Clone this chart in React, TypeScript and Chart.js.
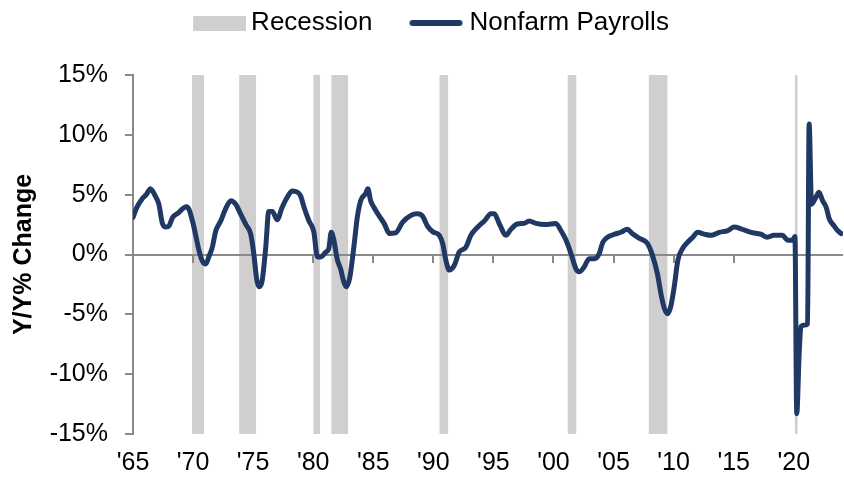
import React, { useEffect, useRef } from 'react';
import { Chart, registerables } from 'chart.js';

Chart.register(...registerables);

// ---- data ----
const years = [
  1965.0, 1965.3, 1965.8, 1966.1, 1966.45, 1966.85, 1967.15, 1967.45, 1967.75, 1968.0,
  1968.3, 1968.8, 1969.1, 1969.45, 1969.65, 1969.95, 1970.2, 1970.5, 1970.8, 1971.05,
  1971.35, 1971.6, 1971.9, 1972.3, 1972.7, 1973.15, 1973.55, 1973.95, 1974.4, 1974.8,
  1975.05, 1975.3, 1975.5, 1975.75, 1976.05, 1976.3, 1976.6, 1977.0, 1977.4, 1977.85,
  1978.25, 1978.7, 1978.95, 1979.25, 1979.65, 1980.05, 1980.35, 1980.6, 1981.05, 1981.3,
  1981.5, 1981.72, 1982.0, 1982.28, 1982.55, 1982.75, 1983.05, 1983.38, 1983.67, 1983.95,
  1984.37, 1984.55, 1984.78, 1985.05, 1985.5, 1985.9, 1986.35, 1986.85, 1987.45, 1988.1,
  1988.65, 1989.1, 1989.5, 1989.95, 1990.5, 1990.78, 1991.05, 1991.32, 1991.75, 1992.15,
  1992.7, 1993.12, 1993.7, 1994.25, 1994.8, 1995.07, 1995.5, 1996.05, 1996.45, 1997.0,
  1997.55, 1997.97, 1998.55, 1999.25, 1999.8, 2000.2, 2000.62, 2001.05, 2001.45, 2001.87,
  2002.15, 2002.55, 2002.97, 2003.4, 2003.8, 2004.1, 2004.5, 2005.1, 2005.6, 2006.15,
  2006.55, 2007.25, 2007.8, 2008.2, 2008.65, 2008.95, 2009.2, 2009.5, 2009.75, 2010.05,
  2010.35, 2010.75, 2011.15, 2011.6, 2012.0, 2012.55, 2013.1, 2013.8, 2014.5, 2015.05,
  2015.6, 2016.45, 2017.25, 2017.8, 2018.35, 2019.05, 2019.5, 2019.9, 2020.1, 2020.25,
  2020.45, 2020.6, 2020.95, 2021.15, 2021.28, 2021.48, 2021.85, 2022.1, 2022.4, 2022.7,
  2022.95, 2023.35, 2023.65, 2023.95,
];
const payrolls = [
  3.1, 3.9, 4.7, 5.0, 5.5, 4.9, 4.2, 2.6, 2.3, 2.4,
  3.1, 3.5, 3.8, 4.0, 3.8, 2.8, 1.7, 0.3, -0.6, -0.8,
  -0.1, 0.6, 2.0, 2.8, 3.8, 4.5, 4.2, 3.4, 2.5, 1.7,
  0.1, -2.1, -2.7, -2.2, 0.6, 3.6, 3.6, 2.9, 3.9, 4.8,
  5.3, 5.2, 4.9, 3.9, 2.8, 1.9, -0.2, -0.2, 0.2, 0.5,
  1.85, 1.2, -0.4, -1.2, -2.3, -2.7, -1.9, 0.6, 3.1, 4.5,
  5.1, 5.5, 4.5, 3.95, 3.2, 2.6, 1.75, 1.8, 2.7, 3.25,
  3.4, 3.2, 2.4, 1.9, 1.6, 0.9, -0.5, -1.3, -0.9, 0.2,
  0.6, 1.6, 2.3, 2.8, 3.4, 3.4, 2.55, 1.6, 2.1, 2.55,
  2.6, 2.8, 2.6, 2.5, 2.55, 2.6, 2.0, 1.2, 0.1, -1.2,
  -1.45, -1.05, -0.35, -0.35, 0.05, 1.0, 1.45, 1.7, 1.86, 2.1,
  1.75, 1.3, 0.95, 0.05, -1.6, -3.3, -4.4, -4.95, -4.4, -2.7,
  -0.5, 0.5, 1.0, 1.45, 1.85, 1.7, 1.6, 1.85, 2.0, 2.3,
  2.15, 1.85, 1.7, 1.45, 1.6, 1.6, 1.2, 1.2, 1.5, -13.3,
  -8.3, -6.0, -5.9, -5.8, 10.9, 4.2, 4.8, 5.2, 4.5, 3.95,
  3.0, 2.4, 2.0, 1.75,
];
const recessionStart = [1969.917, 1973.833, 1980.0, 1981.5, 1990.5, 2001.167, 2007.917, 2020.083];
const recessionEnd = [1970.917, 1975.25, 1980.583, 1982.917, 1991.25, 2001.917, 2009.5, 2020.333];
const xTickYears = [1965, 1970, 1975, 1980, 1985, 1990, 1995, 2000, 2005, 2010, 2015, 2020];
const yTickValues = [-15, -10, -5, 0, 5, 10, 15];
const legendNames = ['Recession', 'Nonfarm Payrolls'];
const yAxisTitle = 'Y/Y% Change';

// ---- styles ----
const NAVY = '#1f3864';
const BAR_GRAY = '#d0cece';
const AXIS_GRAY = '#8a8a8a';
const FONT = "'Liberation Sans', Arial, sans-serif";

function makeMarker(kind: 'box' | 'line'): HTMLCanvasElement {
  const c = document.createElement('canvas');
  c.width = 90;
  c.height = kind === 'box' ? 15 : 8;
  const ctx = c.getContext('2d')!;
  if (kind === 'box') {
    ctx.fillStyle = BAR_GRAY;
    ctx.fillRect(37, 0, 53, 15);
  } else {
    ctx.strokeStyle = NAVY;
    ctx.lineWidth = 6;
    ctx.lineCap = 'round';
    ctx.beginPath();
    ctx.moveTo(38, 4);
    ctx.lineTo(85, 4);
    ctx.stroke();
  }
  return c;
}

const zeroAxisPlugin = {
  id: 'zeroAxis',
  beforeDatasetDraw(chart: any, args: any) {
    if (args.index !== 1) return;
    const { ctx, chartArea, scales } = chart;
    const x = scales.x;
    const y = scales.y;
    const y0 = Math.round(y.getPixelForValue(0));
    ctx.save();
    ctx.strokeStyle = AXIS_GRAY;
    ctx.lineWidth = 2;
    ctx.beginPath();
    ctx.moveTo(chartArea.left, y0);
    ctx.lineTo(chartArea.right, y0);
    for (const t of x.ticks) {
      const px = Math.round(x.getPixelForValue(t.value));
      ctx.moveTo(px, y0);
      ctx.lineTo(px, y0 + 8);
    }
    ctx.stroke();
    ctx.restore();
  },
};

export default function App() {
  const ref = useRef<HTMLCanvasElement | null>(null);

  useEffect(() => {
    if (!ref.current) return;
    const markers = [makeMarker('box'), makeMarker('line')];

    const recessionData: any[] = [];
    recessionStart.forEach((s, i) => {
      recessionData.push({ x: s, y: 15 });
      recessionData.push({ x: recessionEnd[i], y: 15 });
      const next = i + 1 < recessionStart.length ? recessionStart[i + 1] : recessionEnd[i] + 0.5;
      recessionData.push({ x: (recessionEnd[i] + next) / 2, y: null });
    });

    const chart = new Chart(ref.current, {
      type: 'line',
      data: {
        datasets: [
          {
            label: legendNames[0],
            data: recessionData,
            order: 2,
            borderWidth: 0,
            borderColor: 'rgba(0,0,0,0)',
            backgroundColor: BAR_GRAY,
            pointRadius: 0,
            fill: 'start',
            spanGaps: false,
          },
          {
            label: legendNames[1],
            data: years.map((yr, i) => ({ x: yr, y: payrolls[i] })),
            order: 1,
            borderColor: NAVY,
            borderWidth: 5,
            pointRadius: 0,
            cubicInterpolationMode: 'monotone',
            borderJoinStyle: 'round',
            borderCapStyle: 'round',
            fill: false,
          },
        ],
      },
      options: {
        animation: false,
        responsive: false,
        events: [],
        layout: { padding: { left: -10, right: 1, top: 0, bottom: 0 } },
        plugins: {
          tooltip: { enabled: false },
          title: {
            display: true,
            text: '',
            weight: 0,
            font: { size: 1, lineHeight: 1 },
            padding: { top: 0, bottom: 28 },
          } as any,
          legend: {
            display: true,
            position: 'top',
            labels: {
              usePointStyle: true,
              pointStyleWidth: 74,
              boxHeight: 15,
              padding: 10,
              color: '#000',
              font: { family: FONT, size: 26 },
              generateLabels: () =>
                legendNames.map((name, i) => ({
                  text: name,
                  pointStyle: markers[i],
                  fillStyle: 'rgba(0,0,0,0)',
                  strokeStyle: 'rgba(0,0,0,0)',
                  lineWidth: 0,
                  hidden: false,
                  datasetIndex: i,
                  fontColor: '#000',
                })) as any,
            },
          },
        },
        scales: {
          x: {
            type: 'linear',
            min: 1965,
            max: 2024.1,
            afterFit: (s: any) => {
              s.height = 48;
            },
            afterBuildTicks: (s: any) => {
              s.ticks = xTickYears.map((v) => ({ value: v }));
            },
            ticks: {
              autoSkip: false,
              maxRotation: 0,
              minRotation: 0,
              padding: 14,
              color: '#000',
              font: { family: FONT, size: 25 },
              callback: (v: any) => "'" + String(Number(v) % 100).padStart(2, '0'),
            },
            grid: { display: false, drawTicks: false },
            border: { display: false },
          },
          y: {
            type: 'linear',
            min: -15,
            max: 15,
            afterFit: (s: any) => {
              s.width = 143;
            },
            afterBuildTicks: (s: any) => {
              s.ticks = yTickValues.map((v) => ({ value: v }));
            },
            ticks: {
              padding: 17,
              color: '#000',
              font: { family: FONT, size: 25 },
              callback: (v: any) => v + '%',
            },
            grid: {
              drawOnChartArea: false,
              drawTicks: true,
              tickLength: 8,
              color: AXIS_GRAY,
              lineWidth: 2,
            },
            border: { display: true, color: AXIS_GRAY, width: 2 },
            title: {
              display: true,
              text: yAxisTitle,
              color: '#000',
              font: { family: FONT, size: 25, weight: 'bold', lineHeight: 1.2 },
              padding: { top: 19, bottom: 0 },
            },
          },
        },
      },
      plugins: [zeroAxisPlugin],
    } as any);

    return () => chart.destroy();
  }, []);

  return (
    <div style={{ position: 'absolute', left: 0, top: 0, width: 844, height: 482 }}>
      <canvas ref={ref} width={844} height={482} style={{ display: 'block' }} />
    </div>
  );
}
